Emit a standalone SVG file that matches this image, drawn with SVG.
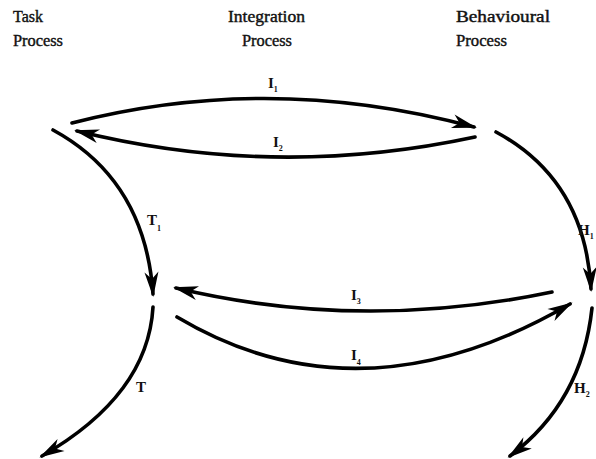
<svg xmlns="http://www.w3.org/2000/svg" width="596" height="459" viewBox="0 0 596 459">
<defs>
<style>
.hd{font-family:"Liberation Serif","Times New Roman",serif;font-size:16px;fill:#111;stroke:#111;stroke-width:0.4}
.lb{font-family:"Liberation Serif","Times New Roman",serif;font-size:15px;font-weight:bold;fill:#111}
.sb{font-size:8px}
.cn{fill:none;stroke:#000;stroke-width:3.6;stroke-linecap:round;marker-end:url(#ah)}
</style>
<marker id="ah" markerUnits="userSpaceOnUse" markerWidth="30" markerHeight="20" viewBox="-26 -10 30 20" refX="0" refY="0" orient="auto">
<path d="M3,0 L-22,-7 L-15,0 L-22,7 Z" fill="#000"/>
</marker>
</defs>
<rect width="596" height="459" fill="#fff"/>
<g id="task-process">
<text class="hd" x="13" y="22" textLength="30" lengthAdjust="spacingAndGlyphs">Task</text>
<text class="hd" x="13" y="46" textLength="50" lengthAdjust="spacingAndGlyphs">Process</text>
</g>
<g id="integration-process">
<text class="hd" x="228" y="22" textLength="77" lengthAdjust="spacingAndGlyphs">Integration</text>
<text class="hd" x="242" y="46" textLength="50" lengthAdjust="spacingAndGlyphs">Process</text>
</g>
<g id="behavioural-process">
<text class="hd" x="456" y="22" textLength="94" lengthAdjust="spacingAndGlyphs">Behavioural</text>
<text class="hd" x="456" y="46" textLength="51" lengthAdjust="spacingAndGlyphs">Process</text>
</g>
<g id="connectors">
<path id="I1" class="cn" d="M72,123 Q270,72 474,127"/>
<path id="I2" class="cn" d="M475,137 Q275,180 77,131"/>
<path id="T1" class="cn" d="M53,130 Q145,180 153,294"/>
<path id="H1" class="cn" d="M496,132 Q585,180 591,289"/>
<path id="I3" class="cn" d="M552,292 Q360,332 176,288"/>
<path id="I4" class="cn" d="M177,317 Q360,426 570,304"/>
<path id="T2" class="cn" d="M153,307 Q148,395 42,456"/>
<path id="H2" class="cn" d="M592,308 Q582,402 510,456"/>
</g>
<g id="labels">
<text class="lb" x="268" y="88">I<tspan class="sb" dy="4">1</tspan></text>
<text class="lb" x="273" y="147">I<tspan class="sb" dy="4">2</tspan></text>
<text class="lb" x="147" y="225">T<tspan class="sb" dy="6">1</tspan></text>
<text class="lb" x="578" y="235">H<tspan class="sb" dy="4">1</tspan></text>
<text class="lb" x="351" y="300">I<tspan class="sb" dy="4">3</tspan></text>
<text class="lb" x="351" y="360">I<tspan class="sb" dy="5">4</tspan></text>
<text class="lb" x="136" y="392">T</text>
<text class="lb" x="574" y="393">H<tspan class="sb" dy="4">2</tspan></text>
</g>
</svg>
